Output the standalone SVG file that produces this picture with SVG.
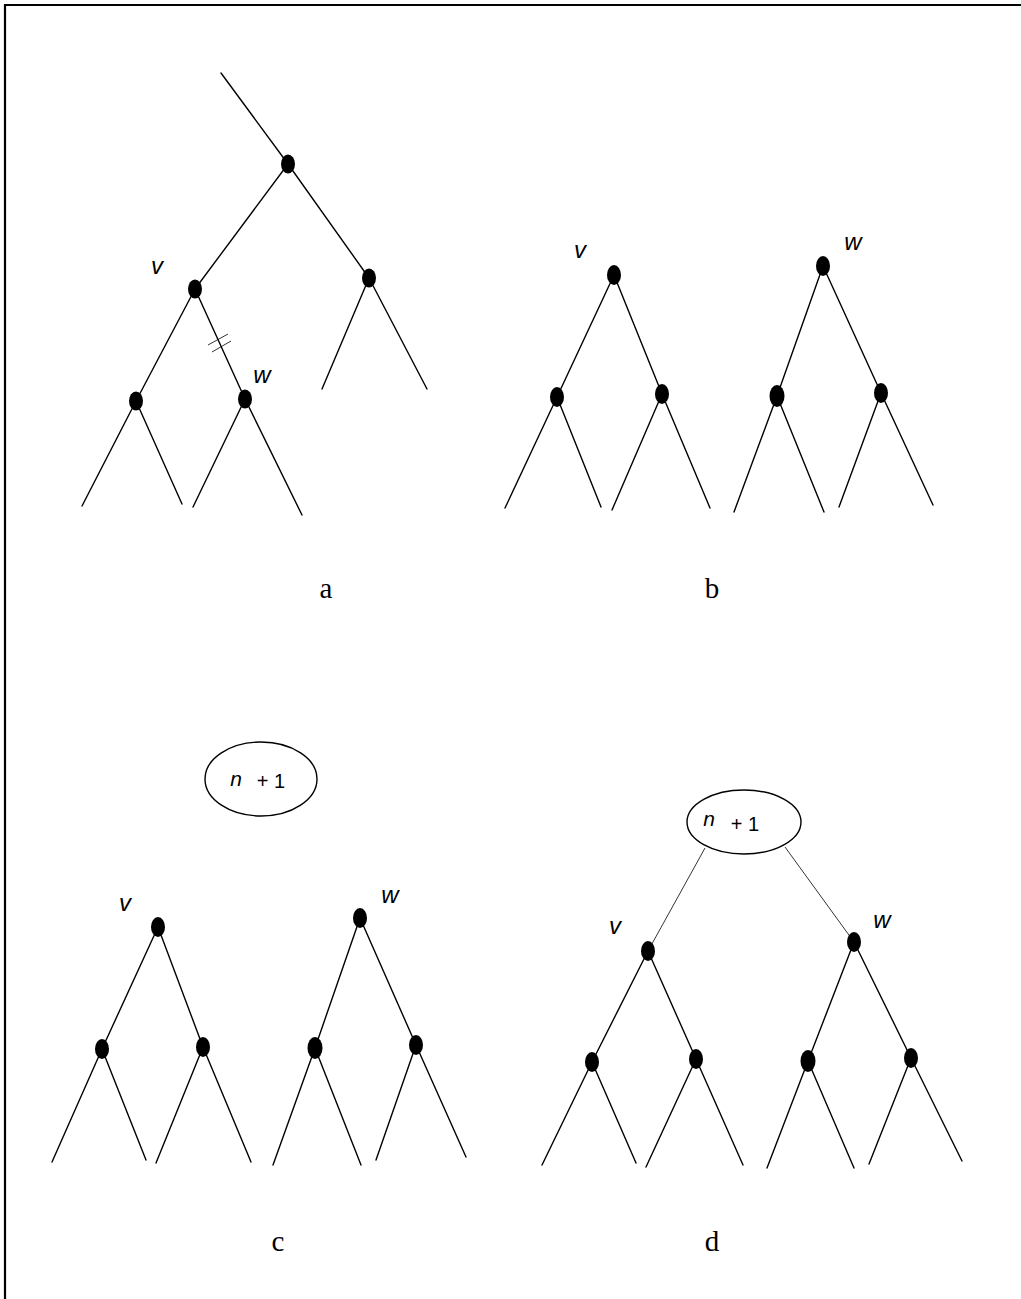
<svg xmlns="http://www.w3.org/2000/svg" width="1021" height="1299" viewBox="0 0 1021 1299">
<style>
.frame{fill:none;stroke:#000;stroke-width:2.2}
.e{stroke:#000;stroke-width:1.4;fill:none;stroke-linecap:round}
.t{stroke:#000;stroke-width:0.8;fill:none}
.n{fill:#000}
.o{fill:#fff;stroke:#000;stroke-width:1.4}
.lab{font-family:"Liberation Sans",Arial,sans-serif;font-style:italic;font-size:24px;text-anchor:middle}
.ni{font-family:"Liberation Sans",Arial,sans-serif;font-style:italic;font-size:21px;text-anchor:middle}
.pl{font-family:"Liberation Sans",Arial,sans-serif;font-size:20px;text-anchor:middle}
.cap{font-family:"Liberation Serif","Times New Roman",serif;font-size:29px;text-anchor:middle}
</style>
<rect width="1021" height="1299" fill="#fff"/>
<path class="frame" d="M5,1299 V5 H1021"/>

<g id="connectors">
  <!-- panel a -->
  <line class="e" x1="221" y1="73" x2="288" y2="164"/>
  <line class="e" x1="288" y1="164" x2="195" y2="289"/>
  <line class="e" x1="288" y1="164" x2="369" y2="278"/>
  <line class="e" x1="195" y1="289" x2="136" y2="401"/>
  <line class="e" x1="195" y1="289" x2="245" y2="399"/>
  <line class="e" x1="136" y1="401" x2="82" y2="506"/>
  <line class="e" x1="136" y1="401" x2="182" y2="504"/>
  <line class="e" x1="245" y1="399" x2="193" y2="507"/>
  <line class="e" x1="245" y1="399" x2="302" y2="515"/>
  <line class="e" x1="369" y1="278" x2="322" y2="389"/>
  <line class="e" x1="369" y1="278" x2="427" y2="389"/>
  <line class="t" x1="208" y1="345" x2="228" y2="334"/>
  <line class="t" x1="212" y1="352" x2="231" y2="341"/>
  <!-- panel b -->
  <line class="e" x1="614" y1="275" x2="557" y2="397"/>
  <line class="e" x1="614" y1="275" x2="662" y2="394"/>
  <line class="e" x1="557" y1="397" x2="505" y2="508"/>
  <line class="e" x1="557" y1="397" x2="601" y2="507"/>
  <line class="e" x1="662" y1="394" x2="612" y2="510"/>
  <line class="e" x1="662" y1="394" x2="710" y2="508"/>
  <line class="e" x1="823" y1="266" x2="777" y2="396"/>
  <line class="e" x1="823" y1="266" x2="881" y2="393"/>
  <line class="e" x1="777" y1="396" x2="734" y2="512"/>
  <line class="e" x1="777" y1="396" x2="824" y2="512"/>
  <line class="e" x1="881" y1="393" x2="839" y2="507"/>
  <line class="e" x1="881" y1="393" x2="933" y2="505"/>
  <!-- panel c -->
  <line class="e" x1="158" y1="927" x2="102" y2="1049"/>
  <line class="e" x1="158" y1="927" x2="203" y2="1047"/>
  <line class="e" x1="102" y1="1049" x2="52" y2="1162"/>
  <line class="e" x1="102" y1="1049" x2="146" y2="1160"/>
  <line class="e" x1="203" y1="1047" x2="156" y2="1163"/>
  <line class="e" x1="203" y1="1047" x2="251" y2="1162"/>
  <line class="e" x1="360" y1="918" x2="315" y2="1048"/>
  <line class="e" x1="360" y1="918" x2="416" y2="1045"/>
  <line class="e" x1="315" y1="1048" x2="273" y2="1165"/>
  <line class="e" x1="315" y1="1048" x2="361" y2="1165"/>
  <line class="e" x1="416" y1="1045" x2="376" y2="1160"/>
  <line class="e" x1="416" y1="1045" x2="466" y2="1157"/>
  <!-- panel d -->
  <line class="t" x1="705" y1="848" x2="648" y2="951"/>
  <line class="t" x1="785" y1="847" x2="854" y2="942"/>
  <line class="e" x1="648" y1="951" x2="592" y2="1062"/>
  <line class="e" x1="648" y1="951" x2="696" y2="1059"/>
  <line class="e" x1="592" y1="1062" x2="542" y2="1165"/>
  <line class="e" x1="592" y1="1062" x2="636" y2="1163"/>
  <line class="e" x1="696" y1="1059" x2="646" y2="1167"/>
  <line class="e" x1="696" y1="1059" x2="743" y2="1165"/>
  <line class="e" x1="854" y1="942" x2="808" y2="1061"/>
  <line class="e" x1="854" y1="942" x2="911" y2="1058"/>
  <line class="e" x1="808" y1="1061" x2="767" y2="1168"/>
  <line class="e" x1="808" y1="1061" x2="854" y2="1168"/>
  <line class="e" x1="911" y1="1058" x2="869" y2="1164"/>
  <line class="e" x1="911" y1="1058" x2="962" y2="1161"/>
</g>

<!-- panel a nodes -->
<g id="a-root"><ellipse class="n" cx="288" cy="164" rx="7" ry="9.5"/></g>
<g id="a-v"><ellipse class="n" cx="195" cy="289" rx="7" ry="9.5"/><text class="lab" x="157" y="274">v</text></g>
<g id="a-right"><ellipse class="n" cx="369" cy="278" rx="7" ry="9.5"/></g>
<g id="a-vl"><ellipse class="n" cx="136" cy="401" rx="7" ry="9.5"/></g>
<g id="a-w"><ellipse class="n" cx="245" cy="399" rx="7" ry="9.5"/><text class="lab" x="262" y="383">w</text></g>
<g id="cap-a"><text class="cap" x="326" y="598">a</text></g>

<!-- panel b nodes -->
<g id="b-v"><ellipse class="n" cx="614" cy="275" rx="7" ry="10"/><text class="lab" x="580" y="258">v</text></g>
<g id="b-vl"><ellipse class="n" cx="557" cy="397" rx="7" ry="10"/></g>
<g id="b-vr"><ellipse class="n" cx="662" cy="394" rx="7" ry="10"/></g>
<g id="b-w"><ellipse class="n" cx="823" cy="266" rx="7" ry="10"/><text class="lab" x="853" y="250">w</text></g>
<g id="b-wl"><ellipse class="n" cx="777" cy="396" rx="7.5" ry="11"/></g>
<g id="b-wr"><ellipse class="n" cx="881" cy="393" rx="7" ry="10"/></g>
<g id="cap-b"><text class="cap" x="712" y="598">b</text></g>

<!-- panel c nodes -->
<g id="c-n1"><ellipse class="o" cx="261" cy="779" rx="56" ry="37"/><text class="ni" x="236" y="786">n</text><text class="pl" x="271" y="788">+ 1</text></g>
<g id="c-v"><ellipse class="n" cx="158" cy="927" rx="7" ry="10"/><text class="lab" x="125" y="911">v</text></g>
<g id="c-vl"><ellipse class="n" cx="102" cy="1049" rx="7" ry="10"/></g>
<g id="c-vr"><ellipse class="n" cx="203" cy="1047" rx="7" ry="10"/></g>
<g id="c-w"><ellipse class="n" cx="360" cy="918" rx="7" ry="10"/><text class="lab" x="390" y="903">w</text></g>
<g id="c-wl"><ellipse class="n" cx="315" cy="1048" rx="7.5" ry="11"/></g>
<g id="c-wr"><ellipse class="n" cx="416" cy="1045" rx="7" ry="10"/></g>
<g id="cap-c"><text class="cap" x="278" y="1251">c</text></g>

<!-- panel d nodes -->
<g id="d-n1"><ellipse class="o" cx="744" cy="822" rx="57" ry="32"/><text class="ni" x="709" y="826">n</text><text class="pl" x="745" y="831">+ 1</text></g>
<g id="d-v"><ellipse class="n" cx="648" cy="951" rx="7" ry="10"/><text class="lab" x="615" y="934">v</text></g>
<g id="d-vl"><ellipse class="n" cx="592" cy="1062" rx="7" ry="10"/></g>
<g id="d-vr"><ellipse class="n" cx="696" cy="1059" rx="7" ry="10"/></g>
<g id="d-w"><ellipse class="n" cx="854" cy="942" rx="7" ry="10"/><text class="lab" x="882" y="928">w</text></g>
<g id="d-wl"><ellipse class="n" cx="808" cy="1061" rx="7.5" ry="11"/></g>
<g id="d-wr"><ellipse class="n" cx="911" cy="1058" rx="7" ry="10"/></g>
<g id="cap-d"><text class="cap" x="712" y="1251">d</text></g>
</svg>
